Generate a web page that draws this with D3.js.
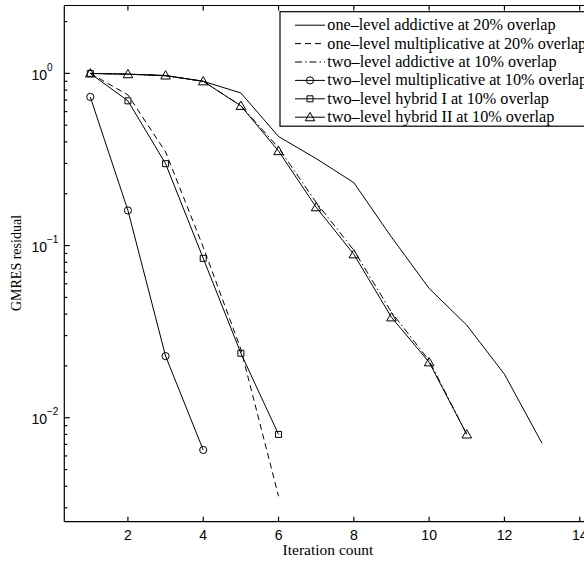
<!DOCTYPE html>
<html>
<head>
<meta charset="utf-8">
<script src="https://cdn.jsdelivr.net/npm/d3@7"></script>
<style>
  html, body { margin: 0; padding: 0; background: #fff; overflow: hidden; }
  svg { display: block; }
</style>
</head>
<body>
<div id="chart"></div>
<script>
// GMRES residual vs iteration count, log-scale convergence plot.
const iters13 = [1, 2, 3, 4, 5, 6, 7, 8, 9, 10, 11, 12, 13];
const oneLevelAdd20 = [1.0, 0.99, 0.97, 0.90, 0.77, 0.43, 0.32, 0.232, 0.112, 0.0564, 0.0345, 0.0179, 0.0071];
const oneLevelMult20 = [1.0, 0.75, 0.35, 0.098, 0.025, 0.0035];
const twoLevelAdd10 = [1.0, 0.99, 0.97, 0.90, 0.65, 0.37, 0.178, 0.094, 0.041, 0.0215, 0.008];
const twoLevelMult10 = [0.73, 0.16, 0.0228, 0.0065];
const hybridI10 = [1.0, 0.693, 0.299, 0.0843, 0.0237, 0.0080];
const hybridII10 = [1.0, 0.99, 0.973, 0.90, 0.648, 0.354, 0.167, 0.089, 0.0383, 0.021, 0.008];

const legendLabels = [
    'one\u2013level addictive at 20% overlap',
    'one\u2013level multiplicative at 20% overlap',
    'two\u2013level addictive at 10% overlap',
    'two\u2013level multiplicative at 10% overlap',
    'two\u2013level hybrid I at 10% overlap',
    'two\u2013level hybrid II at 10% overlap'
];
const xTicks = [2, 4, 6, 8, 10, 12, 14];
const yMajor = [-2, -1, 0];

(function () {
    const width = 584, height = 562;
    const plot = { left: 64.3, top: 5.5, bottom: 521.7, right: 594.8 };

    const series = [
        { values: oneLevelAdd20, dash: null, marker: null },
        { values: oneLevelMult20, dash: '6,4', marker: null },
        { values: twoLevelAdd10, dash: '7,3,1.5,3', marker: null },
        { values: twoLevelMult10, dash: null, marker: 'circle' },
        { values: hybridI10, dash: null, marker: 'square' },
        { values: hybridII10, dash: null, marker: 'triangle' }
    ].map((s, i) => Object.assign(s, {
        label: legendLabels[i],
        points: s.values.map((v, j) => ({ x: iters13[j], y: v }))
    }));

    const x = d3.scaleLinear().domain([0.31, 14.4]).range([plot.left, plot.right]);
    const y = d3.scaleLog().domain([0.00249, 2.48]).range([plot.bottom, plot.top]);

    const svg = d3.select('#chart').append('svg')
        .attr('width', width)
        .attr('height', height);

    const sans = 'Liberation Sans, Arial, sans-serif';
    const serif = 'Liberation Serif, Times New Roman, serif';

    // plot area clip
    svg.append('clipPath').attr('id', 'clip')
        .append('rect')
        .attr('x', plot.left).attr('y', plot.top)
        .attr('width', plot.right - plot.left).attr('height', plot.bottom - plot.top);

    const line = d3.line().x(d => x(d.x)).y(d => y(d.y));
    const dataLayer = svg.append('g').attr('clip-path', 'url(#clip)');

    const markerPath = (type) => {
        if (type === 'circle') return d3.symbol().type(d3.symbolCircle).size(Math.PI * 3.6 * 3.6)();
        if (type === 'square') return d3.symbol().type(d3.symbolSquare).size(36)();
        return d3.symbol().type(d3.symbolTriangle).size(40)();
    };

    series.forEach(s => {
        dataLayer.append('path')
            .datum(s.points)
            .attr('d', line)
            .attr('fill', 'none')
            .attr('stroke', '#000')
            .attr('stroke-width', 1)
            .attr('stroke-dasharray', s.dash);
        if (s.marker) {
            dataLayer.selectAll(null)
                .data(s.points)
                .join('path')
                .attr('d', markerPath(s.marker))
                .attr('transform', d => `translate(${x(d.x)},${y(d.y) + (s.marker === 'triangle' ? 0.8 : 0)})`)
                .attr('fill', 'none')
                .attr('stroke', '#000')
                .attr('stroke-width', 1);
        }
    });

    // axes box
    const axes = svg.append('g').attr('stroke', '#000').attr('stroke-width', 1.2);
    axes.append('line').attr('x1', plot.left).attr('x2', plot.right).attr('y1', plot.top).attr('y2', plot.top);
    axes.append('line').attr('x1', plot.left).attr('x2', plot.right).attr('y1', plot.bottom).attr('y2', plot.bottom);
    axes.append('line').attr('x1', plot.left).attr('x2', plot.left).attr('y1', plot.top).attr('y2', plot.bottom);

    // x ticks, inward on bottom and top
    xTicks.forEach(t => {
        const px = x(t);
        axes.append('line').attr('x1', px).attr('x2', px).attr('y1', plot.bottom).attr('y2', plot.bottom - 5);
        axes.append('line').attr('x1', px).attr('x2', px).attr('y1', plot.top).attr('y2', plot.top + 5);
        svg.append('text')
            .attr('x', px).attr('y', 540)
            .attr('text-anchor', 'middle')
            .attr('font-family', sans).attr('font-size', 14)
            .text(t);
    });

    // y ticks: majors at decades, minors 2..9
    const yMinor = [];
    for (let e = -3; e <= 0; e++) for (let m = 2; m <= 9; m++) {
        const v = m * Math.pow(10, e);
        if (v >= y.domain()[0] && v <= y.domain()[1]) yMinor.push(v);
    }
    yMinor.forEach(v => {
        axes.append('line').attr('x1', plot.left).attr('x2', plot.left + 3).attr('y1', y(v)).attr('y2', y(v));
    });
    yMajor.forEach(e => {
        const py = y(Math.pow(10, e));
        axes.append('line').attr('x1', plot.left).attr('x2', plot.left + 5.5).attr('y1', py).attr('y2', py);
        svg.append('text')
            .attr('x', 47).attr('y', py + 6.7)
            .attr('text-anchor', 'end')
            .attr('font-family', sans).attr('font-size', 14)
            .text('10');
        svg.append('text')
            .attr('x', 47).attr('y', py - 2.6)
            .attr('font-family', sans).attr('font-size', 10)
            .text(e === 0 ? '0' : '\u2212' + Math.abs(e));
    });

    // axis titles
    svg.append('text')
        .attr('x', 328).attr('y', 555)
        .attr('text-anchor', 'middle')
        .attr('font-family', serif).attr('font-size', 15.5)
        .text('Iteration count');
    svg.append('text')
        .attr('transform', 'translate(21,263) rotate(-90)')
        .attr('text-anchor', 'middle')
        .attr('font-family', serif).attr('font-size', 14)
        .text('GMRES residual');

    // legend
    const lg = svg.append('g').attr('transform', 'translate(280,11.7)');
    lg.append('rect')
        .attr('x', 0).attr('y', 0).attr('width', 320).attr('height', 114.5)
        .attr('fill', '#fff').attr('stroke', '#000').attr('stroke-width', 1.2);
    series.forEach((s, i) => {
        const ry = 13.5 + i * 18.4;
        lg.append('line')
            .attr('x1', 15).attr('x2', 45).attr('y1', ry).attr('y2', ry)
            .attr('stroke', '#000').attr('stroke-width', 1)
            .attr('stroke-dasharray', s.dash);
        if (s.marker) {
            lg.append('path')
                .attr('d', markerPath(s.marker))
                .attr('transform', `translate(30,${ry + (s.marker === 'triangle' ? 0.8 : 0)})`)
                .attr('fill', 'none').attr('stroke', '#000').attr('stroke-width', 1);
        }
        lg.append('text')
            .attr('x', 47.3).attr('y', ry + 5)
            .attr('font-family', serif).attr('font-size', 16.2)
            .text(s.label);
    });
})();
</script>
</body>
</html>
